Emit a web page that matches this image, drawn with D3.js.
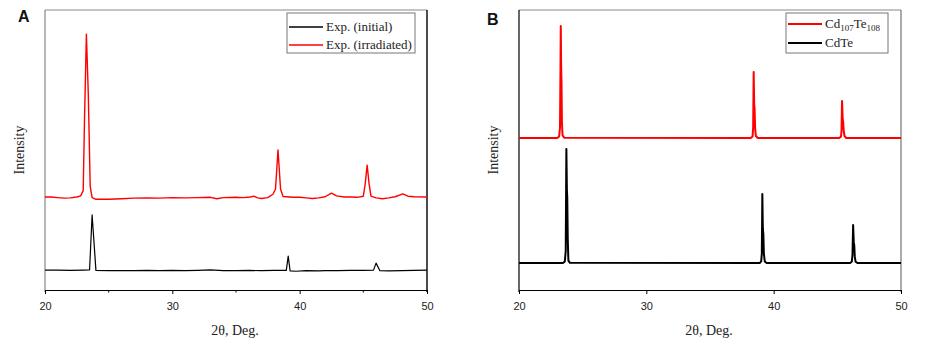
<html>
<head>
<meta charset="utf-8">
<title>XRD patterns</title>
<script src="https://d3js.org/d3.v7.min.js"></script>
<style>
  body { margin: 0; background: #fff; }
  .tick text { font-family: "Liberation Sans", Arial, sans-serif; font-size: 11px; fill: #222; }
</style>
</head>
<body>
<svg width="934" height="351"></svg>
<script>
// 2theta range and tick labels
var xDomain = [20, 50];
var xTicks = [20, 30, 40, 50];
var xMinorA = [25, 35, 45];

// panel A: experimental patterns (arbitrary intensity units, stacked)
var expInitial = [[20,7.1],[21,7.1],[22,7.0],[23,7.1],[23.5,7.2],[23.7,26.8],[24.0,7.0],[25,6.9],[26,6.9],[27,6.9],[28,7.0],[29,6.9],[30,7.0],[31,6.9],[32,7.0],[33,7.2],[34,6.9],[35,6.9],[36,7.0],[37,6.9],[38,7.0],[38.95,7.0],[39.1,12.1],[39.25,6.8],[39.7,6.7],[40.5,6.9],[41.5,6.8],[42,6.9],[43,6.9],[44,7.0],[45,7.0],[45.8,7.1],[46.0,9.6],[46.3,6.9],[47,6.8],[48,6.9],[49,7.0],[50,7.1]];

var expIrradiated = [[20.0,33.2],[20.5,33.2],[21.0,33.0],[21.5,32.8],[22.0,32.9],[22.5,33.2],[22.8,33.6],[23.0,35.5],[23.1,60],[23.25,91.4],[23.4,70],[23.55,37],[23.7,33.0],[24.0,32.4],[25,32.4],[26,32.6],[27,32.8],[28,32.9],[29,32.8],[30,33.0],[31,32.9],[32,33.0],[33,33.1],[33.5,32.6],[34,33.0],[35,33.1],[35.5,33.0],[36.0,33.1],[36.4,33.5],[36.7,32.9],[37.0,32.7],[37.5,33.0],[37.9,34.2],[38.1,36],[38.3,50.0],[38.5,36],[38.7,33.4],[39.5,33.1],[40,33.1],[40.5,32.9],[41.0,32.7],[41.5,32.9],[42.0,33.3],[42.5,34.6],[42.9,33.6],[43.5,33.2],[44,33.2],[44.5,33.1],[45.0,33.5],[45.15,38],[45.3,44.6],[45.45,38],[45.6,33.5],[46,32.9],[46.5,32.6],[47,32.9],[47.5,33.3],[48.1,34.3],[48.5,33.5],[49,33.3],[50,33.2]];

// panel B: simulated patterns
var cd107te108 = [[20,54.3],[23.0,54.3],[23.15,54.8],[23.22,58],[23.26,80],[23.28,94.3],[23.31,80],[23.34,74],[23.37,60],[23.42,55.2],[23.55,54.4],[38.2,54.3],[38.34,54.8],[38.39,58],[38.43,77.9],[38.47,66],[38.5,65],[38.54,58],[38.6,55],[38.75,54.3],[45.15,54.3],[45.29,54.8],[45.33,57],[45.37,67.5],[45.42,61],[45.46,60],[45.5,57],[45.56,55],[45.7,54.3],[50,54.3]];

var cdte = [[20,9.6],[23.45,9.6],[23.6,10.2],[23.67,14],[23.72,50.4],[23.76,36],[23.79,33],[23.83,18],[23.88,10.5],[24.0,9.7],[38.9,9.6],[39.02,10.2],[39.07,13],[39.11,34.3],[39.15,22],[39.19,20],[39.23,13],[39.3,10.2],[39.45,9.6],[46.0,9.6],[46.14,10.2],[46.19,12.5],[46.24,23.2],[46.29,17],[46.33,16],[46.37,12],[46.43,10.1],[46.6,9.6],[50,9.6]];

var svg = d3.select("svg");
var serif = "'Liberation Serif', 'Times New Roman', serif";

function drawPanel(p) {
  var x = d3.scaleLinear().domain(xDomain).range([p.left, p.right]);
  var y = d3.scaleLinear().domain([0, 100]).range([290, 10]);
  var g = svg.append("g");

  // frame
  g.append("line").attr("x1", p.left).attr("x2", p.right).attr("y1", 10).attr("y2", 10)
    .attr("stroke", "#888").attr("stroke-width", 1);
  g.append("line").attr("x1", p.left).attr("x2", p.left).attr("y1", 10).attr("y2", 292)
    .attr("stroke", p.leftColor).attr("stroke-width", 1.2);
  g.append("line").attr("x1", p.right).attr("x2", p.right).attr("y1", 10).attr("y2", 292)
    .attr("stroke", p.rightColor).attr("stroke-width", 1.4);

  // minor ticks
  if (p.minor) {
    g.selectAll(".minor").data(p.minor).enter().append("line")
      .attr("x1", d => x(d)).attr("x2", d => x(d))
      .attr("y1", 290).attr("y2", 292.5)
      .attr("stroke", "#000");
  }

  var ax = g.append("g").attr("transform", "translate(0,290)")
    .call(d3.axisBottom(x).tickValues(xTicks).tickSize(4).tickPadding(8).tickSizeOuter(0));
  ax.select(".domain").attr("stroke", "#000").attr("stroke-width", 1.2);

  // traces
  var line = d3.line().x(d => x(d[0])).y(d => y(d[1]));
  p.series.forEach(function(s) {
    g.append("path").datum(s.data)
      .attr("d", line).attr("fill", "none")
      .attr("stroke", s.color).attr("stroke-width", s.width)
      .attr("stroke-linejoin", "round");
  });

  // axis titles
  g.append("text").attr("x", (p.left + p.right) / 2 - 1).attr("y", 335)
    .attr("text-anchor", "middle").style("font-family", serif).style("font-size", "14px")
    .attr("fill", "#222").text("2\u03b8, Deg.");
  g.append("text").attr("transform", `translate(${p.left - 21},150) rotate(-90)`)
    .attr("text-anchor", "middle").style("font-family", serif).style("font-size", "14px")
    .attr("fill", "#222").text("Intensity");

  // panel letter
  g.append("text").attr("x", p.letterX).attr("y", p.letterY)
    .style("font-family", "'Liberation Sans', Arial, sans-serif").style("font-size", "16px")
    .style("font-weight", "bold").attr("fill", "#111").text(p.letter);

  // legend
  var lg = g.append("g");
  lg.append("rect").attr("x", p.legend.x).attr("y", 13).attr("width", p.legend.w).attr("height", 40)
    .attr("fill", "#fff").attr("stroke", "#777").attr("stroke-width", 1);
  p.legend.items.forEach(function(it, i) {
    var yy = p.legend.rows[i];
    lg.append("line").attr("x1", p.legend.x + 2).attr("x2", p.legend.x + 36)
      .attr("y1", yy).attr("y2", yy).attr("stroke", it.color).attr("stroke-width", p.legend.lw);
    var t = lg.append("text").attr("x", p.legend.x + 39).attr("y", yy + 4)
      .style("font-family", serif).style("font-size", "13px").attr("fill", "#222");
    it.parts.forEach(function(part) {
      if (part.sub) {
        t.append("tspan").attr("dy", 3).style("font-size", "9px").text(part.t);
      } else {
        t.append("tspan").attr("dy", part.after ? -3 : 0).text(part.t);
      }
    });
  });
}

drawPanel({
  left: 45, right: 427, leftColor: "#888", rightColor: "#000", minor: xMinorA,
  letter: "A", letterX: 18, letterY: 22,
  series: [
    { data: expIrradiated, color: "#ff0000", width: 1.4 },
    { data: expInitial, color: "#000", width: 1.2 }
  ],
  legend: { x: 287, w: 128, lw: 1.5, rows: [27, 45], items: [
    { color: "#000", parts: [{ t: "Exp. (initial)" }] },
    { color: "#ff0000", parts: [{ t: "Exp. (irradiated)" }] }
  ]}
});

drawPanel({
  left: 519, right: 901, leftColor: "#000", rightColor: "#888", minor: null,
  letter: "B", letterX: 487, letterY: 25,
  series: [
    { data: cd107te108, color: "#ff0000", width: 2 },
    { data: cdte, color: "#000", width: 2 }
  ],
  legend: { x: 786, w: 102, lw: 2, rows: [24, 43], items: [
    { color: "#ff0000", parts: [{ t: "Cd" }, { t: "107", sub: true }, { t: "Te", after: true }, { t: "108", sub: true }] },
    { color: "#000", parts: [{ t: "CdTe" }] }
  ]}
});
</script>
</body>
</html>
